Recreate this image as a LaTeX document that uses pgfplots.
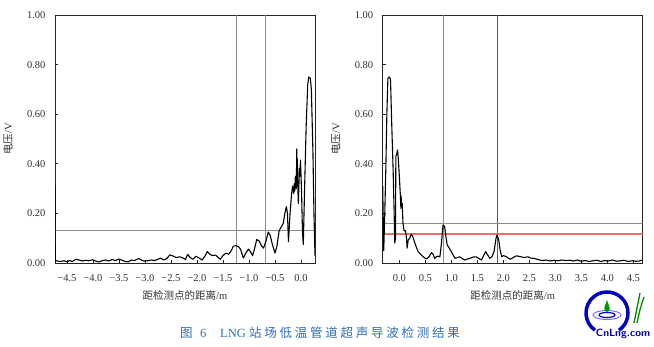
\documentclass[border=0pt]{standalone}
\usepackage{pgfplots}
\pgfplotsset{compat=1.18}
\usepackage{fontspec}
\setmainfont{Liberation Serif}
\newfontfamily\cjk{Noto Sans CJK SC}
\newfontfamily\capcjk[LetterSpace=22]{Noto Sans CJK SC}
\definecolor{capblue}{RGB}{45,110,185}
\definecolor{refred}{RGB}{230,30,30}
\definecolor{refpink}{RGB}{240,110,110}
\definecolor{refgray}{RGB}{140,140,140}

\pgfplotsset{
  myaxis/.style={
    scale only axis, width=260bp, height=248bp,
    ymin=0, ymax=1,
    ytick={0,0.2,0.4,0.6,0.8,1.0},
    yticklabels={0.00,0.20,0.40,0.60,0.80,1.00},
    tick align=inside, tick pos=left,
    major tick length=3bp,
    axis line style={black!85, line width=0.8bp},
    tick style={black!85, line width=0.6bp},
    ticklabel style={font=\fontsize{10.5bp}{12bp}\selectfont, text=black!80},
    yticklabel style={xshift=-6bp},
    xticklabel style={yshift=-8bp},
    every axis x label/.style={at={(axis description cs:0.5,0)}, anchor=center, yshift=-32bp, font=\fontsize{10.5bp}{12bp}\selectfont, text=black!80},
    every axis y label/.style={at={(axis description cs:0,0.5)}, xshift=-47bp, rotate=90, anchor=center, font=\fontsize{10.5bp}{12bp}\selectfont, text=black!80},
    xlabel={{\cjk 距检测点的距离}/m},
    ylabel={{\cjk 电压}/V},
    clip=true,
  },
  curve/.style={black, line width=1.1bp, line join=round},
}

\begin{document}
\begin{tikzpicture}
\useasboundingbox (0,0) rectangle (654bp,347bp);

% Left axis
\begin{axis}[myaxis, at={(55bp,84bp)}, anchor=south west,
  xmin=-4.73, xmax=0.27,
  xtick={-4.5,-4.0,-3.5,-3.0,-2.5,-2.0,-1.5,-1.0,-0.5,0.0},
  xticklabels={−4.5,−4.0,−3.5,−3.0,−2.5,−2.0,−1.5,−1.0,−0.5,0.0}]
\addplot[draw=refgray, line width=0.8bp] coordinates {(-1.25,0) (-1.25,1)};
\addplot[draw=refgray, line width=0.8bp] coordinates {(-0.68,0) (-0.68,1)};
\addplot[draw=refgray, line width=0.8bp] coordinates {(-4.73,0.133) (0.27,0.133)};
\addplot[curve] coordinates {
(-4.73,0.31) (-4.725,0.01) (-4.68,0.008) (-4.62,0.006) (-4.56,0.009) (-4.50,0.005)
(-4.45,0.01) (-4.40,0.006) (-4.33,0.015) (-4.27,0.012) (-4.20,0.008) (-4.14,0.011)
(-4.08,0.009) (-4.00,0.013) (-3.94,0.007) (-3.88,0.004) (-3.82,0.01) (-3.75,0.012)
(-3.70,0.008) (-3.63,0.014) (-3.57,0.01) (-3.50,0.016) (-3.44,0.011) (-3.38,0.006)
(-3.32,0.005) (-3.26,0.012) (-3.20,0.01) (-3.12,0.018) (-3.07,0.012) (-3.02,0.008)
(-2.95,0.009) (-2.88,0.012) (-2.82,0.01) (-2.75,0.015) (-2.70,0.02) (-2.64,0.012)
(-2.58,0.018) (-2.52,0.033) (-2.46,0.028) (-2.40,0.022) (-2.33,0.025) (-2.27,0.02)
(-2.22,0.014) (-2.18,0.035) (-2.13,0.022) (-2.08,0.015) (-2.02,0.027) (-1.96,0.02)
(-1.90,0.012) (-1.84,0.03) (-1.80,0.046) (-1.75,0.035) (-1.70,0.03) (-1.64,0.032)
(-1.58,0.02) (-1.55,0.015) (-1.50,0.03) (-1.44,0.04) (-1.39,0.035) (-1.34,0.05)
(-1.30,0.068) (-1.25,0.07) (-1.20,0.066) (-1.16,0.055) (-1.11,0.02) (-1.06,0.04)
(-1.01,0.056) (-0.97,0.045) (-0.93,0.03) (-0.89,0.06) (-0.85,0.095) (-0.80,0.088)
(-0.76,0.07) (-0.72,0.06) (-0.67,0.09) (-0.63,0.125) (-0.59,0.11) (-0.55,0.075)
(-0.50,0.04) (-0.46,0.07) (-0.42,0.13) (-0.38,0.145) (-0.34,0.16) (-0.31,0.20)
(-0.28,0.227) (-0.26,0.20) (-0.24,0.086) (-0.21,0.2) (-0.18,0.28) (-0.16,0.31)
(-0.14,0.28) (-0.13,0.32) (-0.12,0.29) (-0.11,0.34) (-0.10,0.35) (-0.09,0.30)
(-0.08,0.46) (-0.075,0.33) (-0.07,0.42) (-0.06,0.30) (-0.05,0.24) (-0.03,0.38)
(-0.02,0.35) (-0.01,0.415) (0.01,0.30) (0.03,0.12)
(0.045,0.075) (0.07,0.30) (0.10,0.55) (0.13,0.72) (0.15,0.75) (0.18,0.745)
(0.20,0.70) (0.23,0.45) (0.25,0.20) (0.27,0.03)
};
\end{axis}

% Right axis
\begin{axis}[myaxis, at={(382.7bp,84bp)}, anchor=south west,
  xmin=-0.32, xmax=4.68,
  xtick={0,0.5,1.0,1.5,2.0,2.5,3.0,3.5,4.0,4.5},
  xticklabels={0.0,0.5,1.0,1.5,2.0,2.5,3.0,3.5,4.0,4.5}]
\addplot[draw=refgray, line width=0.9bp] coordinates {(0.84,0) (0.84,1)};
\addplot[draw=refred, line width=1.2bp] coordinates {(1.89,0) (1.89,1)};
\addplot[draw=refgray, line width=0.8bp] coordinates {(-0.32,0.16) (4.68,0.16)};
\addplot[draw=refpink, line width=1.1bp] coordinates {(-0.32,0.117) (4.68,0.117)};
\addplot[curve] coordinates {
(-0.32,0.31) (-0.30,0.05) (-0.28,0.20) (-0.26,0.38) (-0.24,0.60) (-0.22,0.745)
(-0.19,0.75) (-0.17,0.74) (-0.145,0.55) (-0.12,0.38) (-0.10,0.20) (-0.087,0.08)
(-0.075,0.10) (-0.067,0.43) (-0.05,0.44) (-0.035,0.456) (-0.02,0.42) (0.0,0.35)
(0.02,0.27) (0.03,0.22) (0.035,0.27) (0.04,0.227) (0.055,0.24) (0.07,0.16) (0.09,0.13) (0.12,0.13)
(0.14,0.093) (0.15,0.06) (0.17,0.093) (0.20,0.10) (0.23,0.117) (0.26,0.105)
(0.30,0.079) (0.36,0.046) (0.41,0.035) (0.46,0.025) (0.52,0.016) (0.57,0.025)
(0.62,0.042) (0.65,0.035) (0.68,0.019) (0.73,0.028) (0.78,0.025) (0.81,0.08)
(0.84,0.153) (0.87,0.148) (0.90,0.10) (0.92,0.073) (0.96,0.06) (1.00,0.046)
(1.04,0.03) (1.07,0.019) (1.12,0.022) (1.16,0.025) (1.21,0.018) (1.26,0.012)
(1.31,0.016) (1.36,0.019) (1.42,0.024) (1.48,0.025) (1.53,0.018) (1.58,0.012)
(1.62,0.03) (1.66,0.046) (1.70,0.032) (1.74,0.019) (1.78,0.025) (1.82,0.045)
(1.86,0.10) (1.88,0.113) (1.91,0.095) (1.94,0.05) (1.97,0.025) (2.00,0.03)
(2.06,0.025) (2.13,0.015) (2.19,0.022) (2.25,0.029) (2.32,0.026) (2.40,0.022)
(2.47,0.025) (2.53,0.02) (2.60,0.018) (2.68,0.013) (2.75,0.01) (2.82,0.012)
(2.90,0.008) (2.98,0.011) (3.05,0.009) (3.12,0.012) (3.20,0.01) (3.28,0.011)
(3.35,0.008) (3.42,0.012) (3.50,0.007) (3.57,0.01) (3.65,0.006) (3.72,0.009)
(3.80,0.011) (3.88,0.006) (3.95,0.01) (4.02,0.008) (4.10,0.012) (4.18,0.007)
(4.25,0.009) (4.32,0.011) (4.40,0.006) (4.48,0.009) (4.55,0.007) (4.62,0.008)
(4.68,0.013)
};
\end{axis}

% Caption
\node[text=capblue, font=\fontsize{12.5bp}{14bp}\selectfont, anchor=center] at (320bp,14bp)
  {{\capcjk 图}\hspace{0.6em}6\hspace{1.1em}LNG {\capcjk 站场低温管道超声导波检测结果}};

% Logo (decorative)
\begin{scope}[shift={(607bp,34bp)}]
  \draw[blue!75!black, line width=3.5bp] (-55:21bp) arc (-55:235:21bp);
  \draw[blue!55, line width=1bp] (0,-2bp) ellipse (14bp and 4.5bp);
  \draw[blue!80!black, line width=1.2bp] (0,-2bp) ellipse (8bp and 2.5bp);
  \fill[green!60!black] (0,13bp) .. controls (2bp,7bp) and (5bp,2bp) .. (0,1bp) .. controls (-5bp,2bp) and (-2bp,7bp) .. (0,13bp);
  \draw[green!55!black, line width=1.3bp] (27bp,-10bp) .. controls (29bp,5bp) .. (33bp,20bp);
  \draw[green!55!black, line width=1.3bp] (30bp,-10bp) .. controls (33bp,4bp) .. (37bp,16bp);
  \node[text=blue!70!black, font=\sffamily\bfseries\fontsize{10.5bp}{12bp}\selectfont, anchor=center] at (16bp,-21bp) {CnLng.com};
\end{scope}
\end{tikzpicture}
\end{document}
